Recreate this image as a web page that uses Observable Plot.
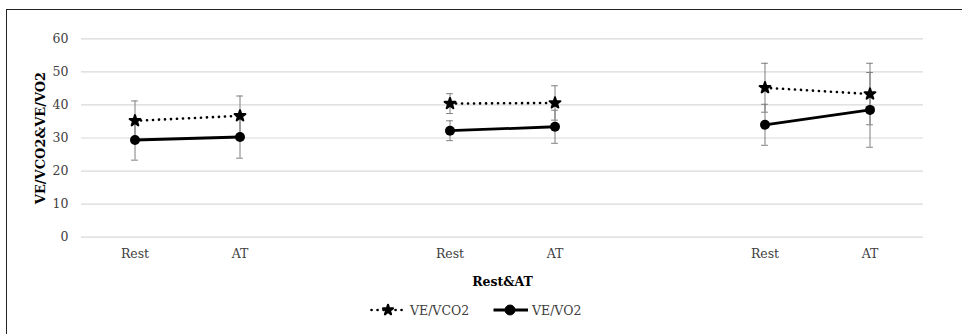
<!DOCTYPE html>
<html>
<head>
<meta charset="utf-8">
<script src="https://cdn.jsdelivr.net/npm/d3@7"></script>
<script src="https://cdn.jsdelivr.net/npm/@observablehq/plot@0.6"></script>
<style>
  body { margin: 0; background: #fff; }
  #wrap { position: relative; width: 962px; height: 334px; overflow: hidden; background: #fff; font-family: "DejaVu Serif", serif; }
  #border { position: absolute; left: 6px; top: 9px; right: -10px; bottom: -10px; border-top: 1.5px solid #222; border-left: 1.5px solid #222; }
  #chart { position: absolute; left: 0; top: 0; }
  #legend { position: absolute; top: 301px; left: 0; width: 962px; height: 18px; font-size: 12.5px; color: #404040; }
  .item { position: absolute; top: 0; display: flex; align-items: center; height: 18px; }
  .item svg { display: block; }
</style>
</head>
<body>
<div id="wrap">
  <div id="border"></div>
  <div id="chart"></div>
  <div id="legend"></div>
</div>
<script>
// ---- data ----
const xLabels = ["Rest", "AT", "", "Rest", "AT", "", "Rest", "AT"];
const pointSlot = [0, 1, 3, 4, 6, 7];
const pointGroup = ["G1", "G1", "G2", "G2", "G3", "G3"];
const seriesNames = ["VE/VCO2", "VE/VO2"];
const veVco2 = [35.2, 36.7, 40.4, 40.6, 45.2, 43.3];
const veVco2Err = [6.0, 6.0, 3.0, 5.2, 7.4, 9.3];
const veVo2 = [29.4, 30.3, 32.2, 33.4, 34.0, 38.5];
const veVo2Err = [6.1, 6.4, 3.0, 5.0, 6.2, 11.3];
const yTicks = [0, 10, 20, 30, 40, 50, 60];
const yTitle = "VE/VCO2&VE/VO2";
const xTitle = "Rest&AT";

const rows = pointSlot.flatMap((s, i) => [
  {slot: s, group: pointGroup[i], series: seriesNames[0], value: veVco2[i], err: veVco2Err[i]},
  {slot: s, group: pointGroup[i], series: seriesNames[1], value: veVo2[i], err: veVo2Err[i]}
]);
const vco2 = rows.filter(d => d.series === seriesNames[0]);
const vo2 = rows.filter(d => d.series === seriesNames[1]);

const W = 962, H = 295;
const mL = 81, mR = 39, mT = 38.3, mB = H - 236.7;
const bw = (W - mL - mR) / xLabels.length;
const capInset = (bw - 7) / 2;
const dotted = "0.1,5.9";

const chart = Plot.plot({
  width: W,
  height: H,
  marginLeft: mL,
  marginRight: mR,
  marginTop: mT,
  marginBottom: mB,
  style: {fontFamily: "DejaVu Serif, serif", fontSize: "12.5px", color: "#404040", background: "transparent"},
  x: {type: "band", domain: d3.range(xLabels.length), padding: 0},
  y: {domain: [0, 60], ticks: yTicks},
  marks: [
    Plot.gridY(yTicks, {stroke: "#d9d9d9", strokeOpacity: 1, strokeWidth: 1.2}),
    Plot.axisX({tickSize: 0, tickPadding: 12, tickFormat: i => xLabels[i], label: null}),
    Plot.axisY(yTicks, {tickSize: 0, tickPadding: 13, label: null}),
    Plot.ruleX(rows, {x: "slot", y1: d => d.value - d.err, y2: d => d.value + d.err, stroke: "#7f7f7f", strokeWidth: 1}),
    Plot.tickY(rows, {x: "slot", y: d => d.value - d.err, stroke: "#7f7f7f", strokeWidth: 1, insetLeft: capInset, insetRight: capInset}),
    Plot.tickY(rows, {x: "slot", y: d => d.value + d.err, stroke: "#7f7f7f", strokeWidth: 1, insetLeft: capInset, insetRight: capInset}),
    Plot.line(vco2, {x: "slot", y: "value", z: "group", stroke: "#000", strokeWidth: 2.6, strokeDasharray: dotted, strokeLinecap: "round"}),
    Plot.line(vo2, {x: "slot", y: "value", z: "group", stroke: "#000", strokeWidth: 2.8}),
    Plot.dot(vco2, {x: "slot", y: "value", symbol: "star", r: 3.4, fill: "#000", stroke: "#000", strokeWidth: 2, strokeLinejoin: "round"}),
    Plot.dot(vo2, {x: "slot", y: "value", symbol: "circle", r: 5, fill: "#000"}),
    Plot.text([xTitle], {frameAnchor: "bottom", dy: 49, text: d => d, fontWeight: "bold", fill: "#000", fontSize: 12.5}),
    Plot.text([yTitle], {frameAnchor: "left", dx: -41, rotate: -90, textAnchor: "middle", text: d => d, fontWeight: "bold", fill: "#000", fontSize: 13})
  ]
});
document.getElementById("chart").appendChild(chart);

// ---- legend ----
const legend = document.getElementById("legend");
const legendItems = [
  {name: seriesNames[0], left: 370, dash: dotted, sym: d3.symbolStar, size: 32},
  {name: seriesNames[1], left: 492, dash: null, sym: d3.symbolCircle, size: 78}
];
legendItems.forEach(it => {
  const div = document.createElement("div");
  div.className = "item";
  div.style.left = it.left + "px";
  const sw = 36;
  const svg = d3.create("svg").attr("width", sw + 4).attr("height", 18);
  svg.append("line").attr("x1", 1.5).attr("x2", sw).attr("y1", 9).attr("y2", 9)
    .attr("stroke", "#000").attr("stroke-width", it.dash ? 2.6 : 2.8)
    .attr("stroke-dasharray", it.dash).attr("stroke-linecap", it.dash ? "round" : "butt");
  svg.append("path").attr("d", d3.symbol(it.sym, it.size)()).attr("transform", `translate(${sw / 2},9)`)
    .attr("fill", "#000").attr("stroke", "#000").attr("stroke-width", it.dash ? 2 : 1).attr("stroke-linejoin", "round");
  div.appendChild(svg.node());
  const span = document.createElement("span");
  span.textContent = it.name;
  div.appendChild(span);
  legend.appendChild(div);
});
</script>
</body>
</html>
